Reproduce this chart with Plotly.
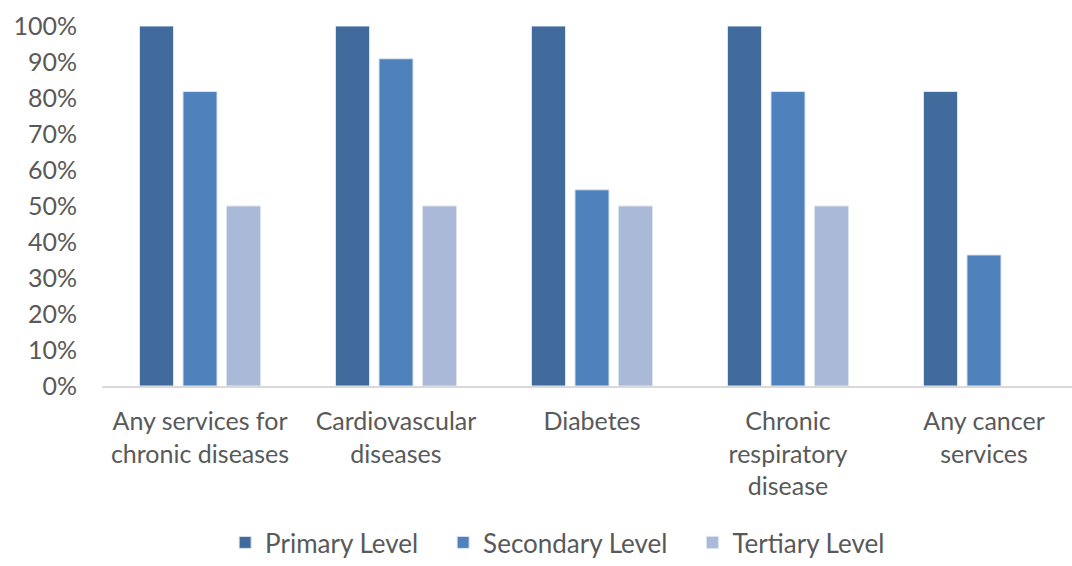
import plotly.graph_objects as go

categories = [
    "Any services for<br>chronic diseases",
    "Cardiovascular<br>diseases",
    "Diabetes",
    "Chronic<br>respiratory<br>disease",
    "Any cancer<br>services",
]
primary = [1.0, 1.0, 1.0, 1.0, 0.818]
secondary = [0.818, 0.909, 0.545, 0.818, 0.364]
tertiary = [0.5, 0.5, 0.5, 0.5, None]

PAD = "\u00a0" * 3
series = [
    ("Primary Level" + PAD, primary, "#416B9C"),
    ("Secondary Level" + PAD, secondary, "#4F81BD"),
    ("Tertiary Level", tertiary, "#AAB9D7"),
]

FONT = "Lato, 'Open Sans', sans-serif"
TEXT = "#595959"
FS = 25

fig = go.Figure()
for name, vals, color in series:
    fig.add_trace(go.Bar(
        name=name, x=categories, y=vals,
        marker=dict(color=color, line=dict(color="#DCE4F0", width=1)),
    ))

fig.update_layout(
    barmode="group",
    bargap=0.334,
    bargroupgap=0.218,
    width=1072, height=566,
    margin=dict(l=102, r=0, t=26, b=180, autoexpand=False),
    plot_bgcolor="white", paper_bgcolor="white",
    font=dict(family=FONT, size=FS, color=TEXT),
    legend=dict(
        orientation="h",
        xref="container", x=0.21, xanchor="left",
        yref="container", y=0.0, yanchor="bottom",
        font=dict(size=26, color=TEXT), traceorder="normal",
        itemwidth=30, itemclick=False,
    ),
    showlegend=True,
)
fig.update_yaxes(
    range=[0, 1.0], tickformat=".0%", dtick=0.1,
    showgrid=False, zeroline=False, showline=False,
    ticklabelstandoff=24, tickfont=dict(size=FS, color=TEXT),
    fixedrange=True,
)
fig.update_xaxes(
    range=[-0.5, 4.449],
    showline=True, linecolor="#D9D9D9", linewidth=2,
    showgrid=False, ticks="", tickfont=dict(size=FS, color=TEXT),
    ticklabelstandoff=12, fixedrange=True,
)

fig.write_html("out.html")
